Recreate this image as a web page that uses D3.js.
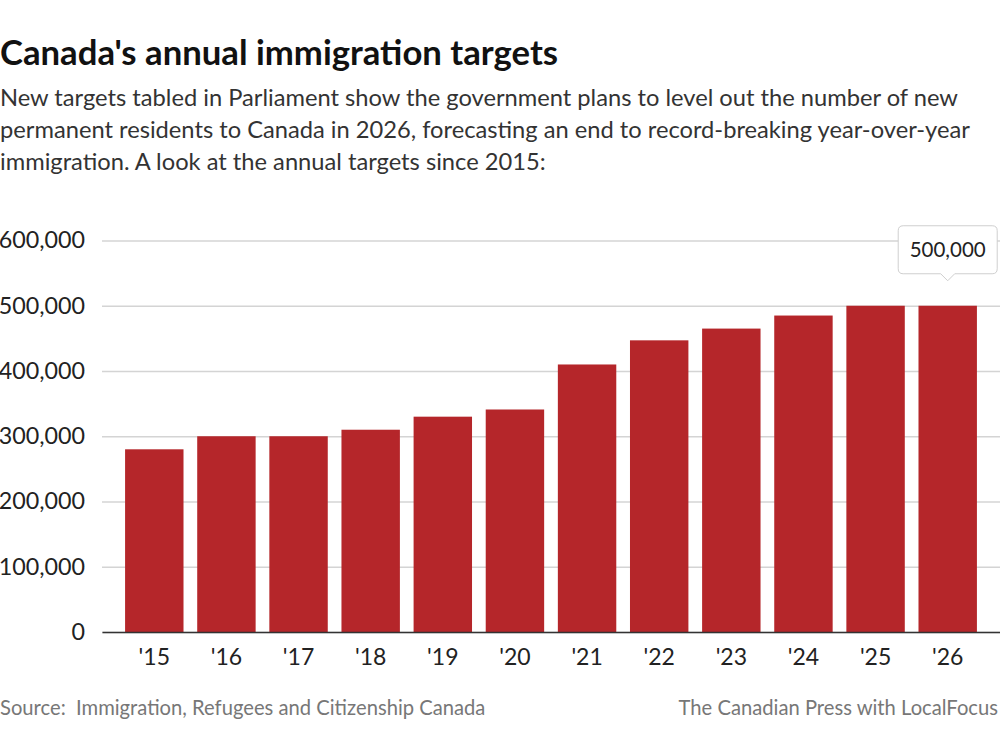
<!DOCTYPE html>
<html>
<head>
<meta charset="utf-8">
<script src="https://cdn.jsdelivr.net/npm/d3@7"></script>
<style>
  body { margin: 0; background: #fff; }
  svg { font-family: Lato, "Noto Sans", sans-serif; display: block; }
</style>
</head>
<body>
<svg id="mainSVG" width="1000" height="750"></svg>
<script>
// data
var years = ["'15", "'16", "'17", "'18", "'19", "'20", "'21", "'22", "'23", "'24", "'25", "'26"];
var targets = [280000, 300000, 300000, 310000, 330000, 341000, 410000, 447000, 465000, 485000, 500000, 500000];
var yTicks = [0, 100000, 200000, 300000, 400000, 500000, 600000];
var subtitleLines = [
    "New targets tabled in Parliament show the government plans to level out the number of new",
    "permanent residents to Canada in 2026, forecasting an end to record-breaking year-over-year",
    "immigration. A look at the annual targets since 2015:"
];

var width = 1000;
var height = 750;
// plot area
var plot = { left: 102, right: 1000, top: 240.5, bottom: 632 };
var barColor = "#b5262a";

var svg = d3.select("#mainSVG");

// title and subtitle
svg.append("text")
    .attr("x", 0)
    .attr("y", 65)
    .attr("font-size", 34.7)
    .attr("font-weight", "bold")
    .attr("fill", "#111")
    .text("Canada's annual immigration targets");

svg.append("g")
    .selectAll("text")
    .data(subtitleLines)
    .enter()
    .append("text")
    .attr("x", 0)
    .attr("y", function(d, i) { return 106 + i * 32; })
    .attr("font-size", 23.7)
    .attr("fill", "#333")
    .text(function(d) { return d; });

// scales
var x = d3.scaleBand()
    .domain(years)
    .range([plot.left, plot.right])
    .paddingInner(0.19)
    .paddingOuter(0.32);

var y = d3.scaleLinear()
    .domain([0, 600000])
    .range([plot.bottom, plot.top]);

// y axis with gridlines
var yAxis = svg.append("g")
    .attr("transform", "translate(" + plot.left + ",0)")
    .call(d3.axisLeft(y)
        .tickValues(yTicks)
        .tickSize(-(plot.right - plot.left))
        .tickPadding(17)
        .tickFormat(d3.format(",")));
yAxis.select(".domain").remove();
yAxis.selectAll(".tick line")
    .attr("stroke", "#d4d4d4")
    .attr("stroke-width", 1.3);
yAxis.selectAll(".tick text")
    .attr("font-size", 23.3)
    .attr("font-family", "Lato, sans-serif")
    .attr("fill", "#222");

// bars
svg.append("g")
    .selectAll("rect")
    .data(targets)
    .enter()
    .append("rect")
    .attr("x", function(d, i) { return x(years[i]); })
    .attr("y", function(d) { return y(d); })
    .attr("width", x.bandwidth())
    .attr("height", function(d) { return y(0) - y(d); })
    .attr("fill", barColor);

// x axis
var xAxis = svg.append("g")
    .attr("transform", "translate(0," + plot.bottom + ")")
    .call(d3.axisBottom(x).tickSize(0).tickPadding(17));
xAxis.select(".domain")
    .attr("stroke", "#333")
    .attr("stroke-width", 1.4);
xAxis.selectAll(".tick text")
    .attr("font-size", 23)
    .attr("font-family", "Lato, sans-serif")
    .attr("fill", "#222");

// tooltip on the last bar
var lastIdx = targets.length - 1;
var tipX = x(years[lastIdx]) + x.bandwidth() / 2;
var tipY = y(targets[lastIdx]) - 25;
var boxW = 99, boxH = 48, r = 5, arrow = 7;
var bx = tipX - boxW / 2, by = tipY - arrow - boxH;
var tipPath = "M" + (bx + r) + "," + by +
    " H" + (bx + boxW - r) + " Q" + (bx + boxW) + "," + by + " " + (bx + boxW) + "," + (by + r) +
    " V" + (by + boxH - r) + " Q" + (bx + boxW) + "," + (by + boxH) + " " + (bx + boxW - r) + "," + (by + boxH) +
    " H" + (tipX + arrow) + " L" + tipX + "," + (by + boxH + arrow) + " L" + (tipX - arrow) + "," + (by + boxH) +
    " H" + (bx + r) + " Q" + bx + "," + (by + boxH) + " " + bx + "," + (by + boxH - r) +
    " V" + (by + r) + " Q" + bx + "," + by + " " + (bx + r) + "," + by + " Z";
svg.append("path")
    .attr("d", tipPath)
    .attr("fill", "#fff")
    .attr("stroke", "#cfcfcf")
    .attr("stroke-width", 1);
svg.append("text")
    .attr("x", tipX)
    .attr("y", by + boxH / 2 + 7)
    .attr("text-anchor", "middle")
    .attr("font-size", 20.5)
    .attr("fill", "#222")
    .text(d3.format(",")(targets[lastIdx]));

// footer
svg.append("text")
    .attr("x", 0)
    .attr("y", 715)
    .attr("font-size", 20.2)
    .attr("fill", "#777")
    .style("white-space", "pre")
    .text("Source:  Immigration, Refugees and Citizenship Canada");
svg.append("text")
    .attr("x", 998)
    .attr("y", 715)
    .attr("text-anchor", "end")
    .attr("font-size", 20.2)
    .attr("fill", "#777")
    .text("The Canadian Press with LocalFocus");
</script>
</body>
</html>
